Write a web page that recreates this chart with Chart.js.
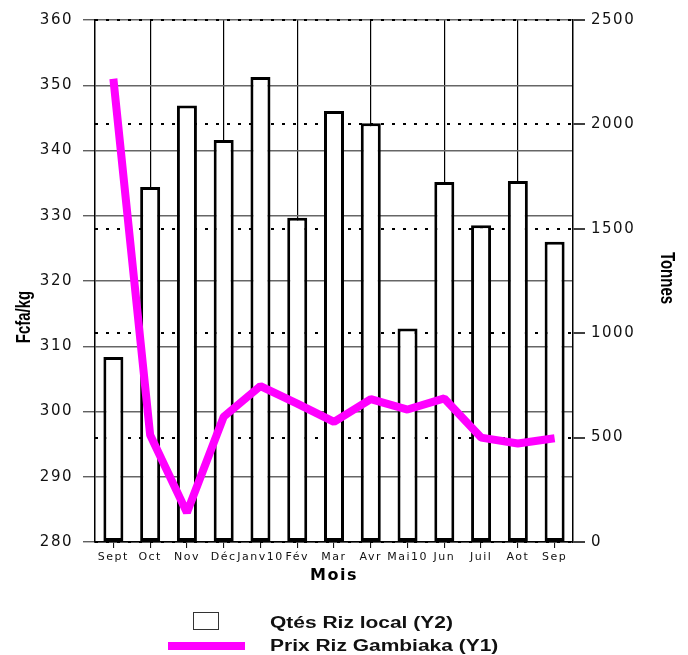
<!DOCTYPE html>
<html>
<head>
<meta charset="utf-8">
<script src="https://cdn.jsdelivr.net/npm/chart.js@4/dist/chart.umd.min.js"></script>
<style>
  body { margin: 0; background: #fff; }
  #wrap { position: relative; width: 688px; height: 655px; }
  .leg { position: absolute; font: bold 16px "Liberation Sans", Arial, sans-serif; color: #111;
         transform: scaleX(1.31); transform-origin: left center; white-space: nowrap; line-height: 18px; }
  #box { position: absolute; left: 193px; top: 612px; width: 24px; height: 16px; border: 1.5px solid #333; background: #fff; }
  #swatch { position: absolute; left: 168px; top: 642px; width: 77px; height: 8px; background: #ff00ff; }
</style>
</head>
<body>
<div id="wrap">
  <canvas id="myChart" width="688" height="655"></canvas>
  <div id="box"></div>
  <div class="leg" style="left:270px; top:614px;">Qtés Riz local (Y2)</div>
  <div id="swatch"></div>
  <div class="leg" style="left:270px; top:637px;">Prix Riz Gambiaka (Y1)</div>
</div>
<script>
// mois
var months = ['Sept', 'Oct', 'Nov', 'Déc', 'Janv10', 'Fév', 'Mar', 'Avr', 'Mai10', 'Jun', 'Juil', 'Aot', 'Sep'];
// quantites riz local (tonnes, axe droit)
var qtesRiz = [886, 1700, 2090, 1925, 2227, 1553, 2064, 2005, 1023, 1724, 1517, 1729, 1438];
// prix riz gambiaka (Fcfa/kg, axe gauche)
var prixRiz = [351, 296.4, 284.5, 299.2, 303.9, 301.2, 298.4, 301.9, 300.3, 302, 296, 295.1, 295.9];
// bornes des axes : min, max, pas
var prixAxis = [280, 360, 10];
var tonnesAxis = [0, 2500, 500];

var tickFont = 'DejaVu Sans';

// titres verticaux + espacement des lettres
var extras = {
  id: 'extras',
  beforeUpdate: function(chart) { chart.ctx.letterSpacing = '1.5px'; },
  beforeLayout: function(chart) { chart.ctx.letterSpacing = '1.5px'; },
  beforeDraw: function(chart) { chart.ctx.letterSpacing = '1.5px'; },
  afterDraw: function(chart) {
    var ctx = chart.ctx;
    ctx.save();
    ctx.letterSpacing = '0px';
    ctx.font = 'bold 15px "Liberation Sans", Arial, sans-serif';
    ctx.fillStyle = '#000';
    ctx.textAlign = 'center';
    ctx.textBaseline = 'middle';
    ctx.translate(25, 317);
    ctx.rotate(-Math.PI / 2);
    ctx.scale(1, 1.3);
    ctx.fillText('Fcfa/kg', 0, 0);
    ctx.restore();

    ctx.save();
    ctx.letterSpacing = '0px';
    ctx.font = 'bold 15px "Liberation Sans", Arial, sans-serif';
    ctx.fillStyle = '#000';
    ctx.textAlign = 'center';
    ctx.textBaseline = 'middle';
    ctx.translate(666, 278);
    ctx.rotate(Math.PI / 2);
    ctx.scale(1, 1.3);
    ctx.fillText('Tonnes', 0, 0);
    ctx.restore();
  }
};

function plain(v) { return String(v); }

var ctx = document.getElementById('myChart').getContext('2d');
var chart = new Chart(ctx, {
  type: 'bar',
  data: {
    labels: months,
    datasets: [{
      type: 'line',
      label: 'Prix Riz Gambiaka (Y1)',
      data: prixRiz,
      yAxisID: 'y',
      borderColor: '#ff00ff',
      borderWidth: 8,
      borderCapStyle: 'butt',
      borderJoinStyle: 'bevel',
      pointRadius: 0,
      tension: 0,
      fill: false,
      order: 0
    }, {
      label: 'Qtés Riz local (Y2)',
      data: qtesRiz,
      yAxisID: 'y2',
      backgroundColor: '#ffffff',
      borderColor: '#000000',
      borderWidth: 3,
      borderSkipped: false,
      categoryPercentage: 1,
      barPercentage: 0.544,
      order: 1
    }]
  },
  options: {
    responsive: false,
    animation: false,
    layout: { padding: { top: 20, left: 0, right: 0, bottom: 0 }, autoPadding: false },
    plugins: { legend: { display: false }, tooltip: { enabled: false } },
    scales: {
      x: {
        offset: true,
        grid: {
          offset: false,
          color: function(c) { return c.index % 2 === 1 ? '#000' : 'rgba(0,0,0,0)'; },
          lineWidth: 1.2,
          tickColor: '#000',
          tickLength: 6,
          tickWidth: 1
        },
        border: { display: true, color: '#000', width: 1.5 },
        ticks: {
          autoSkip: false, maxRotation: 0, minRotation: 0, padding: 3,
          color: '#111', font: { family: tickFont, size: 11 }
        },
        title: {
          display: true, text: 'Mois', color: '#000',
          font: { family: tickFont, size: 16, weight: 'bold' },
          padding: { top: 0, bottom: 70 }
        },
        afterFit: function(s) { s.height = 113; }
      },
      y: {
        position: 'left',
        min: prixAxis[0], max: prixAxis[1],
        ticks: { stepSize: prixAxis[2], padding: 10, color: '#111', font: { family: tickFont, size: 15 }, callback: plain },
        grid: { color: '#666', lineWidth: 1.5, tickLength: 12, tickColor: '#444', tickWidth: 1.2 },
        border: { display: true, color: '#000', width: 1.5 },
        afterFit: function(s) { s.width = 95; }
      },
      y2: {
        position: 'right',
        min: tonnesAxis[0], max: tonnesAxis[1],
        ticks: { stepSize: tonnesAxis[2], padding: 6, color: '#111', font: { family: tickFont, size: 15 }, callback: plain },
        grid: { color: '#000', lineWidth: 2, tickLength: 12, tickColor: '#000', tickWidth: 1.5, tickBorderDash: [] },
        border: { display: true, color: '#000', width: 1.5, dash: [3, 8] },
        afterFit: function(s) { s.width = 115; }
      }
    }
  },
  plugins: [extras]
});
</script>
</body>
</html>
